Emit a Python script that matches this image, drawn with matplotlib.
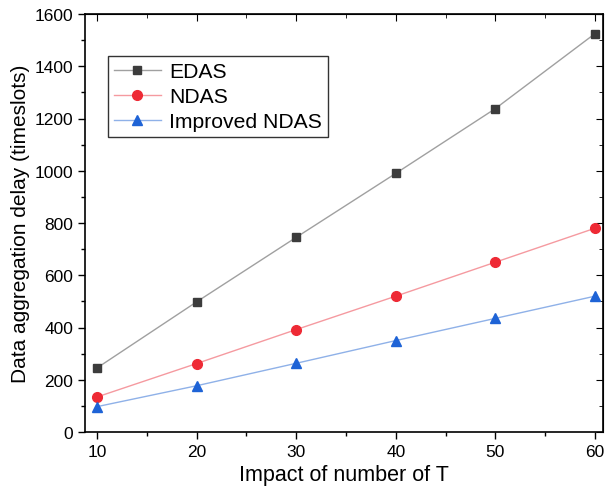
import numpy as np
import matplotlib
matplotlib.use("Agg")
import matplotlib.pyplot as plt
from matplotlib.ticker import MultipleLocator

plt.rcParams['font.family'] = ['Liberation Sans', 'DejaVu Sans']

t_values = [10, 20, 30, 40, 50, 60]
edas = [245, 498, 745, 990, 1238, 1525]
ndas = [134, 262, 392, 520, 650, 780]
improved_ndas = [97, 177, 263, 350, 435, 520]

fig = plt.figure(figsize=(6.05, 5.02), dpi=100)
ax = fig.add_axes([85 / 605, 1 - 433 / 502, 518 / 605, 418 / 502])

ax.plot(t_values, edas, color='#a0a0a0', lw=1, marker='s', ms=6,
        mfc='#3c3c3c', mec='#3c3c3c', label='EDAS')
ax.plot(t_values, ndas, color='#f59aa0', lw=1, marker='o', ms=7,
        mfc='#ee2a35', mec='#ee2a35', label='NDAS')
ax.plot(t_values, improved_ndas, color='#8fb1e8', lw=1, marker='^', ms=7,
        mfc='#1e63d6', mec='#1e63d6', label='Improved NDAS')

ax.set_xlim(8.8, 60.8)
ax.set_ylim(0, 1600)
ax.xaxis.set_major_locator(MultipleLocator(10))
ax.xaxis.set_minor_locator(MultipleLocator(5))
ax.yaxis.set_major_locator(MultipleLocator(200))
ax.yaxis.set_minor_locator(MultipleLocator(100))

ax.tick_params(which='both', direction='out', labelsize=12.5, width=1)
ax.tick_params(which='major', length=5)
ax.tick_params(which='minor', length=3)
# mirrored ticks pointing inwards on top and right
sec_x = ax.secondary_xaxis('top')
sec_x.xaxis.set_major_locator(MultipleLocator(10))
sec_x.xaxis.set_minor_locator(MultipleLocator(5))
sec_x.tick_params(which='both', direction='in', labeltop=False)
sec_x.tick_params(which='major', length=5)
sec_x.tick_params(which='minor', length=3)
sec_y = ax.secondary_yaxis('right')
sec_y.yaxis.set_major_locator(MultipleLocator(200))
sec_y.yaxis.set_minor_locator(MultipleLocator(100))
sec_y.tick_params(which='both', direction='in', labelright=False)
sec_y.tick_params(which='major', length=5)
sec_y.tick_params(which='minor', length=3)

for sp in ax.spines.values():
    sp.set_linewidth(1.2)

ax.set_xlabel('Impact of number of T', fontsize=15.5, labelpad=4)
ax.set_ylabel('Data aggregation delay (timeslots)', fontsize=15, labelpad=3)

leg = ax.legend(loc='upper left', bbox_to_anchor=(0.044, 0.9), fontsize=15.2,
                frameon=True, fancybox=False, edgecolor='black',
                borderpad=0.3, handlelength=2.2, labelspacing=0.28,
                handletextpad=0.4, borderaxespad=0)
leg.get_frame().set_linewidth(1)

fig.savefig('out.png', dpi=100)
